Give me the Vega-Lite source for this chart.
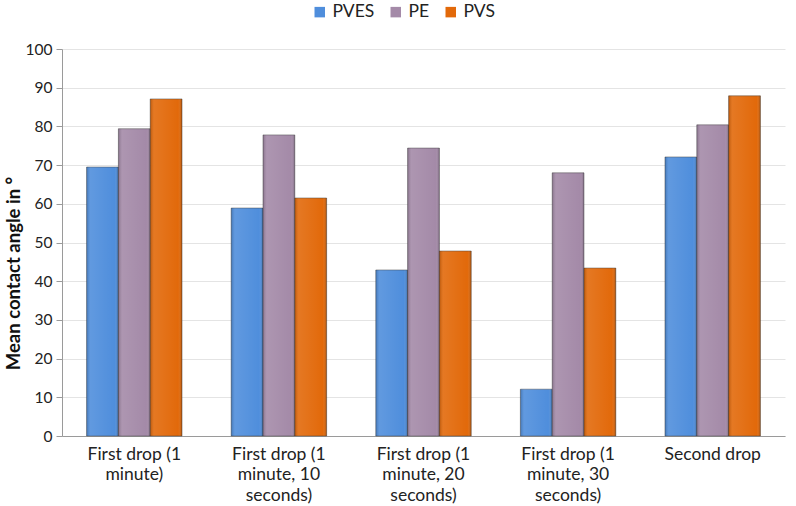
{
  "$schema": "https://vega.github.io/schema/vega-lite/v6.json",
  "width": 723,
  "height": 387,
  "autosize": {"type": "none"},
  "padding": {"left": 62, "top": 49, "right": 11, "bottom": 70},
  "background": "white",
  "config": {
    "font": "Lato",
    "view": {"stroke": null}
  },
  "data": {
    "values": [
      {"cat": "First drop (1 minute)", "series": "PVES", "value": 69.5},
      {"cat": "First drop (1 minute)", "series": "PE", "value": 79.4},
      {"cat": "First drop (1 minute)", "series": "PVS", "value": 87.1},
      {"cat": "First drop (1 minute, 10 seconds)", "series": "PVES", "value": 58.9},
      {"cat": "First drop (1 minute, 10 seconds)", "series": "PE", "value": 77.8},
      {"cat": "First drop (1 minute, 10 seconds)", "series": "PVS", "value": 61.5},
      {"cat": "First drop (1 minute, 20 seconds)", "series": "PVES", "value": 42.9},
      {"cat": "First drop (1 minute, 20 seconds)", "series": "PE", "value": 74.4},
      {"cat": "First drop (1 minute, 20 seconds)", "series": "PVS", "value": 47.8},
      {"cat": "First drop (1 minute, 30 seconds)", "series": "PVES", "value": 12.1},
      {"cat": "First drop (1 minute, 30 seconds)", "series": "PE", "value": 68.0},
      {"cat": "First drop (1 minute, 30 seconds)", "series": "PVS", "value": 43.4},
      {"cat": "Second drop", "series": "PVES", "value": 72.1},
      {"cat": "Second drop", "series": "PE", "value": 80.4},
      {"cat": "Second drop", "series": "PVS", "value": 87.9}
    ]
  },
  "encoding": {
    "x": {
      "field": "cat",
      "type": "nominal",
      "sort": null,
      "scale": {"paddingInner": 0.34, "paddingOuter": 0.17},
      "axis": {
        "title": null,
        "labelAngle": 0,
        "labelFont": "Lato",
        "labelFontSize": 17.5,
        "labelColor": "#222222",
        "labelLineHeight": 20.5,
        "labelPadding": 9,
        "ticks": false,
        "domainColor": "#9a9a9a",
        "labelExpr": "datum.value == 'First drop (1 minute)' ? ['First drop (1', 'minute)'] : datum.value == 'First drop (1 minute, 10 seconds)' ? ['First drop (1', 'minute, 10', 'seconds)'] : datum.value == 'First drop (1 minute, 20 seconds)' ? ['First drop (1', 'minute, 20', 'seconds)'] : datum.value == 'First drop (1 minute, 30 seconds)' ? ['First drop (1', 'minute, 30', 'seconds)'] : datum.value"
      }
    },
    "xOffset": {"field": "series", "type": "nominal", "sort": ["PVES", "PE", "PVS"], "scale": {"domain": ["PVES", "PE", "PVS"], "paddingInner": 0}},
    "y": {
      "field": "value",
      "type": "quantitative",
      "scale": {"domain": [0, 100]},
      "axis": {
        "title": "Mean contact angle in °",
        "titleFont": "Lato",
        "titleFontSize": 18.5,
        "titleFontWeight": "bold",
        "titleColor": "#111111",
        "titleAngle": -90,
        "titleX": -49,
        "titleY": 224,
        "titleAlign": "center",
        "titleBaseline": "middle",
        "values": [0, 10, 20, 30, 40, 50, 60, 70, 80, 90, 100],
        "labelOverlap": false,
        "labelFont": "Lato",
        "labelFontSize": 15.5,
        "labelColor": "#222222",
        "labelPadding": 4,
        "tickSize": 6,
        "tickColor": "#9a9a9a",
        "domainColor": "#9a9a9a",
        "gridColor": "#e4e4e4",
        "grid": true
      }
    }
  },
  "layer": [
    {
      "mark": {"type": "bar", "stroke": "#3a3a3a", "strokeOpacity": 0.45, "strokeWidth": 1},
      "encoding": {
        "color": {
          "field": "series",
          "type": "nominal",
          "scale": {"domain": ["PVES", "PE", "PVS"], "range": ["#4f8edc", "#a48aa8", "#e2690a"]},
          "legend": {
            "title": null,
            "orient": "none",
            "direction": "horizontal",
            "legendX": 249,
            "legendY": -46,
            "symbolType": "square",
            "symbolSize": 110,
            "symbolStrokeWidth": 0,
            "labelFont": "Lato",
            "labelFontSize": 17.5,
            "labelColor": "#222222",
            "columnPadding": 12,
            "labelOffset": 4
          }
        }
      }
    },
    {
      "mark": {
        "type": "bar",
        "fill": {
          "gradient": "linear",
          "x1": 0, "y1": 0, "x2": 1, "y2": 0,
          "stops": [
            {"offset": 0, "color": "rgba(0,0,0,0.18)"},
            {"offset": 0.12, "color": "rgba(255,255,255,0.10)"},
            {"offset": 0.5, "color": "rgba(255,255,255,0.05)"},
            {"offset": 0.88, "color": "rgba(255,255,255,0.0)"},
            {"offset": 1, "color": "rgba(0,0,0,0.25)"}
          ]
        }
      }
    }
  ]
}
